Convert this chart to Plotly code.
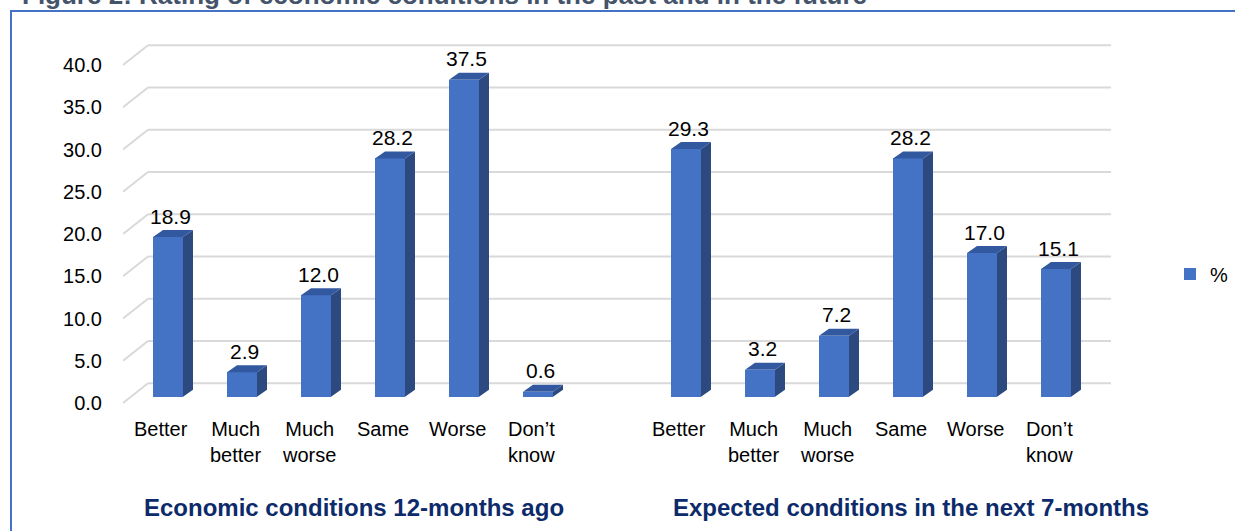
import plotly.graph_objects as go

# ---- data -------------------------------------------------------------
categories = ["Better", "Much<br>better", "Much<br>worse", "Same", "Worse", "Don’t<br>know"]
past_values = [18.9, 2.9, 12.0, 28.2, 37.5, 0.6]      # 12 months ago
future_values = [29.3, 3.2, 7.2, 28.2, 17.0, 15.1]    # next 7 months
group_titles = ["Economic conditions 12-months ago",
                "Expected conditions in the next 7-months"]
y_ticks = [0, 5, 10, 15, 20, 25, 30, 35, 40]
y_tick_labels = [f"{v:.1f}" for v in y_ticks]
series_name = "%"
figure_title = "Figure 2: Rating of economic conditions in the past and in the future"

# ---- geometry (pixels) -------------------------------------------------
W, H = 1235, 531
PLOT_L, PLOT_R, PLOT_T, PLOT_B = 123, 1112, 40, 410
PX_X = 74.0          # pixels per category slot
PX_Y = 8.45          # pixels per percentage point
FIRST_CENTER = 168   # pixel of first bar centre
ZERO_PX = 403        # pixel of 0 on the front edge of the floor

x_range = [-(FIRST_CENTER - PLOT_L) / PX_X, (PLOT_R - FIRST_CENTER) / PX_X]
y_range = [-(PLOT_B - ZERO_PX) / PX_Y, (ZERO_PX - PLOT_T) / PX_Y]

bar_width = 30 / PX_X
bar_base = 6.3 / PX_Y           # bars stand a little behind the floor front edge
depth_dx = 10 / PX_X            # 3-D extrusion of each column
depth_dy = 7 / PX_Y
wall_dy = 19.7 / PX_Y           # back wall sits higher than the floor front
wall_left = -20 / PX_X
wall_right = (1111 - FIRST_CENTER) / PX_X


def px_to_paper_y(py):
    return (PLOT_B - py) / (PLOT_B - PLOT_T)


def px_to_paper_x(px):
    return (px - PLOT_L) / (PLOT_R - PLOT_L)


n = len(categories)
past_x = list(range(n))
future_x = [n + 1 + i for i in range(n)]
all_x = past_x + future_x
all_v = past_values + future_values

FRONT = "#4472C4"
SIDE = "#2C4A80"
TOP = "#3259A0"
GRID = "#D9D9D9"

fig = go.Figure()

# front faces of the columns
fig.add_trace(go.Bar(
    x=all_x, y=all_v, base=[bar_base] * len(all_v), width=bar_width,
    marker=dict(color=FRONT, line=dict(width=0)),
    name=series_name, showlegend=True, hoverinfo="skip",
))

# right-hand side faces and top faces of the columns
side_x, side_y, top_x, top_y = [], [], [], []
for xc, v in zip(all_x, all_v):
    xl, xr = xc - bar_width / 2, xc + bar_width / 2
    yb, yt = bar_base, bar_base + v
    side_x += [xr, xr + depth_dx, xr + depth_dx, xr, xr, None]
    side_y += [yb, yb + depth_dy, yt + depth_dy, yt, yb, None]
    top_x += [xl, xr, xr + depth_dx, xl + depth_dx, xl, None]
    top_y += [yt, yt, yt + depth_dy, yt + depth_dy, yt, None]

fig.add_trace(go.Scatter(x=side_x, y=side_y, mode="lines", fill="toself",
                         fillcolor=SIDE, line=dict(width=0, color=SIDE),
                         showlegend=False, hoverinfo="skip"))
fig.add_trace(go.Scatter(x=top_x, y=top_y, mode="lines", fill="toself",
                         fillcolor=TOP, line=dict(width=0, color=TOP),
                         showlegend=False, hoverinfo="skip"))

# gridlines: slanted side wall segment + back wall line
shapes = []
for v in y_ticks:
    shapes.append(dict(type="line", xref="x", yref="y", layer="below",
                       x0=x_range[0], y0=v, x1=wall_left, y1=v + wall_dy,
                       line=dict(color=GRID, width=2)))
    shapes.append(dict(type="line", xref="x", yref="y", layer="below",
                       x0=wall_left, y0=v + wall_dy, x1=wall_right, y1=v + wall_dy,
                       line=dict(color=GRID, width=2)))

# outer frame (top and left edges visible)
shapes.append(dict(type="rect", xref="paper", yref="paper",
                   x0=px_to_paper_x(11), y0=px_to_paper_y(545),
                   x1=px_to_paper_x(1250), y1=px_to_paper_y(11),
                   line=dict(color="#4472C4", width=2), fillcolor="rgba(0,0,0,0)"))

annotations = []
# value labels
for xc, v in zip(all_x, all_v):
    annotations.append(dict(x=xc, y=bar_base + v, xref="x", yref="y",
                            text=f"{v:.1f}", showarrow=False,
                            xshift=2, yshift=21, yanchor="middle",
                            font=dict(size=21, color="#000000")))
# category labels
for xc, lab in zip(past_x + future_x, categories + categories):
    annotations.append(dict(x=xc, y=px_to_paper_y(416), xref="x", yref="paper",
                            text=lab, showarrow=False, xshift=-7,
                            xanchor="center", yanchor="top", align="center",
                            font=dict(size=20, color="#000000")))
# group titles
for gx, title in zip([past_x[0], future_x[0]], group_titles):
    annotations.append(dict(x=gx - bar_width / 2, y=px_to_paper_y(507),
                            xref="x", yref="paper", text=f"<b>{title}</b>",
                            showarrow=False, xanchor="left", yanchor="middle",
                            xshift=(-11 if gx == past_x[0] else 0),
                            font=dict(size=24, color="#0D2B6B")))
# figure caption (runs past the top edge of the page)
annotations.append(dict(x=px_to_paper_x(20), y=px_to_paper_y(12),
                        xref="paper", yref="paper",
                        text=f"<b>{figure_title}</b>", showarrow=False,
                        xanchor="left", yanchor="bottom",
                        font=dict(size=26, color="#44546A")))

fig.update_layout(
    width=W, height=H,
    margin=dict(l=PLOT_L, r=W - PLOT_R, t=PLOT_T, b=H - PLOT_B, pad=0,
                autoexpand=False),
    paper_bgcolor="white", plot_bgcolor="white",
    font=dict(family="Liberation Sans, Arial, sans-serif", color="#000000"),
    xaxis=dict(range=x_range, showgrid=False, zeroline=False, showline=False,
               showticklabels=False, ticks="", fixedrange=True),
    yaxis=dict(range=y_range, tickvals=y_ticks, ticktext=y_tick_labels,
               showgrid=False, zeroline=False, showline=False, ticks="",
               ticklabelstandoff=20, tickfont=dict(size=20, color="#000000"),
               fixedrange=True),
    showlegend=True,
    legend=dict(x=px_to_paper_x(1170), y=px_to_paper_y(274),
                xanchor="left", yanchor="middle",
                font=dict(size=20, color="#000000"),
                bgcolor="rgba(0,0,0,0)", borderwidth=0),
    shapes=shapes,
    annotations=annotations,
    bargap=0,
)

fig.write_html("out.html")
